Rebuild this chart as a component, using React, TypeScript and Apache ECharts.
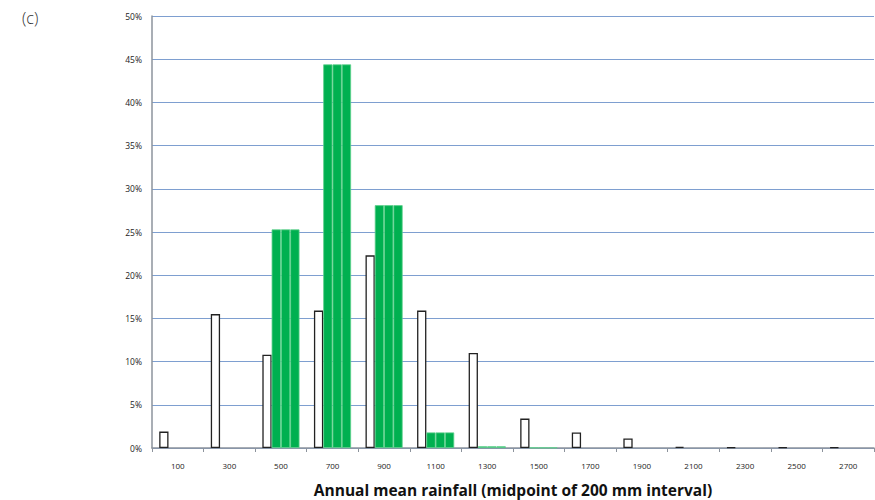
import React, { useEffect, useRef } from "react";
import * as echarts from "echarts";

const categories = ["100", "300", "500", "700", "900", "1100", "1300", "1500", "1700", "1900", "2100", "2300", "2500", "2700"];
const whiteValues = [1.9, 15.5, 10.8, 15.9, 22.3, 15.9, 11.0, 3.4, 1.8, 1.1, 0.15, 0.1, 0.1, 0.1];
const greenValues = [0, 0, 25.3, 44.4, 28.1, 1.8, 0.2, 0.05, 0, 0, 0, 0, 0, 0];
const yTicks = { min: 0, max: 50, interval: 5 };
const xTitle = "Annual mean rainfall (midpoint of 200 mm interval)";
const panelLabel = "(c)";

export default function App() {
  const ref = useRef<HTMLDivElement>(null);
  useEffect(() => {
    document.body.style.margin = "0";
    const chart = echarts.init(ref.current!, null, { renderer: "svg" });
    const greenData = greenValues.map((v) => (v === 0 ? null : v));
    const greenSeries = [0, 1, 2].map(() => ({
      type: "bar" as const,
      data: greenData,
      barGap: "0%",
      barCategoryGap: "28%",
      itemStyle: { color: "#00b050", borderColor: "#5dd18c", borderWidth: 0.8 },
      silent: true,
    }));
    chart.setOption({
      animation: false,
      grid: { left: 152, right: 1, top: 16, bottom: 52, outerBoundsMode: "none", containLabel: false },
      graphic: [
        {
          type: "text",
          left: 22,
          top: 10,
          style: { text: panelLabel, font: "300 16px 'Open Sans'", fill: "#333" },
        },
      ],
      xAxis: {
        type: "category",
        data: categories,
        name: xTitle,
        nameLocation: "middle",
        nameGap: 34,
        nameTextStyle: { fontFamily: "Open Sans", fontWeight: "bold", fontSize: 15.5, color: "#111" },
        axisLine: { lineStyle: { color: "#8c939c", width: 1.5 } },
        axisTick: { show: true, length: 4, lineStyle: { color: "#8c939c" } },
        axisLabel: { fontSize: 8, color: "#222", margin: 13, fontFamily: "Open Sans" },
      },
      yAxis: {
        type: "value",
        min: yTicks.min,
        max: yTicks.max,
        interval: yTicks.interval,
        axisLine: { show: true, lineStyle: { color: "#8c939c", width: 1.5 } },
        axisTick: { show: false },
        axisLabel: { formatter: "{value}%", fontSize: 8.5, color: "#222", margin: 10, fontFamily: "Open Sans" },
        splitLine: { lineStyle: { color: "#7e9fd0", width: 1.2 } },
      },
      series: [
        {
          type: "bar",
          data: whiteValues,
          barGap: "0%",
          barCategoryGap: "28%",
          itemStyle: { color: "#ffffff", borderColor: "#222", borderWidth: 1.3 },
          silent: true,
        },
        ...greenSeries,
      ],
    });
    return () => chart.dispose();
  }, []);
  return <div ref={ref} style={{ width: 875, height: 500 }} />;
}
